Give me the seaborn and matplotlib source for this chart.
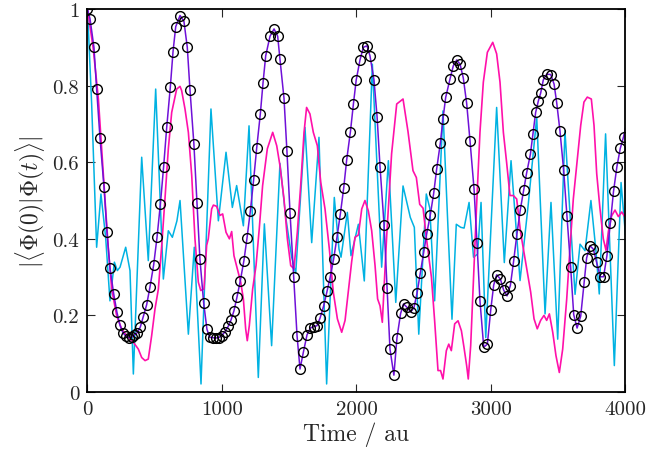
import numpy as np
import pandas as pd
import seaborn as sns
import matplotlib
matplotlib.use("Agg")
import matplotlib.pyplot as plt
from matplotlib.ticker import FuncFormatter

# purple series (drawn with open circles); last point is the line end at the frame
t_purple = [0, 19, 48, 68, 93, 123, 145, 167, 195, 219, 241, 264, 289, 309, 328, 348, 370, 393, 415, 440,
            465, 492, 517, 542, 566, 589, 616, 636, 656, 688, 717, 742, 762, 791, 814, 836, 864, 888, 908, 930,
            953, 975, 997, 1022, 1047, 1067, 1089, 1111, 1136, 1163, 1186, 1211, 1235, 1258, 1285, 1305, 1325,
            1357, 1387, 1414, 1431, 1461, 1483, 1506, 1533, 1558, 1580, 1605, 1632, 1657, 1682, 1706, 1729,
            1756, 1781, 1805, 1830, 1855, 1880, 1905, 1927, 1955, 1977, 1998, 2026, 2051, 2078, 2100, 2130,
            2153, 2175, 2205, 2227, 2249, 2278, 2301, 2328, 2350, 2373, 2403, 2427, 2450, 2475, 2500, 2522,
            2549, 2574, 2596, 2623, 2643, 2663, 2695, 2720, 2745, 2770, 2794, 2819, 2844, 2874, 2896, 2918,
            2946, 2973, 2998, 3020, 3042, 3070, 3094, 3119, 3144, 3168, 3193, 3218, 3243, 3265, 3293, 3312,
            3332, 3352, 3369, 3389, 3414, 3444, 3469, 3489, 3513, 3540, 3565, 3592, 3615, 3640, 3667, 3692,
            3711, 3736, 3761, 3785, 3813, 3837, 3862, 3887, 3911, 3936, 3961, 3986, 4000]
v_purple = [1.0, 0.974, 0.90, 0.791, 0.663, 0.534, 0.417, 0.324, 0.256, 0.208, 0.175, 0.154, 0.145, 0.142,
            0.143, 0.149, 0.155, 0.17, 0.197, 0.228, 0.275, 0.332, 0.404, 0.491, 0.588, 0.691, 0.797, 0.889,
            0.954, 0.983, 0.968, 0.90, 0.789, 0.648, 0.493, 0.347, 0.232, 0.164, 0.143, 0.142, 0.141, 0.142,
            0.147, 0.157, 0.172, 0.188, 0.212, 0.247, 0.29, 0.343, 0.402, 0.473, 0.553, 0.637, 0.726, 0.807,
            0.878, 0.929, 0.948, 0.929, 0.869, 0.767, 0.628, 0.467, 0.299, 0.147, 0.06, 0.104, 0.149, 0.167,
            0.171, 0.173, 0.193, 0.225, 0.263, 0.301, 0.347, 0.404, 0.465, 0.533, 0.606, 0.68, 0.752, 0.815,
            0.867, 0.90, 0.904, 0.878, 0.815, 0.719, 0.588, 0.436, 0.272, 0.112, 0.044, 0.142, 0.205, 0.23,
            0.222, 0.209, 0.22, 0.258, 0.312, 0.365, 0.413, 0.463, 0.519, 0.582, 0.649, 0.713, 0.769, 0.817,
            0.852, 0.867, 0.856, 0.82, 0.754, 0.656, 0.53, 0.388, 0.238, 0.117, 0.125, 0.214, 0.279, 0.306,
            0.295, 0.266, 0.251, 0.278, 0.341, 0.413, 0.476, 0.527, 0.572, 0.621, 0.674, 0.73, 0.76, 0.78,
            0.815, 0.83, 0.829, 0.804, 0.754, 0.681, 0.58, 0.46, 0.327, 0.202, 0.167, 0.198, 0.286, 0.35,
            0.382, 0.373, 0.339, 0.301, 0.301, 0.356, 0.44, 0.524, 0.588, 0.636, 0.667, 0.69]

# magenta series
t_magenta = [0, 43, 81, 105, 130, 155, 180, 217, 254, 291, 341, 378, 403, 428, 452, 477, 502, 527, 552, 576,
             601, 626, 663, 688, 700, 725, 750, 775, 799, 824, 842, 866, 886, 898, 923, 936, 960, 985, 1005,
             1030, 1055, 1072, 1089, 1114, 1139, 1159, 1176, 1188, 1203, 1228, 1253, 1277, 1302, 1337, 1377,
             1407, 1431, 1461, 1486, 1511, 1535, 1560, 1585, 1610, 1629, 1654, 1679, 1709, 1734, 1766, 1798,
             1828, 1858, 1890, 1915, 1940, 1964, 1989, 2014, 2039, 2063, 2088, 2113, 2138, 2157, 2175, 2192,
             2224, 2261, 2299, 2331, 2346, 2383, 2420, 2445, 2470, 2495, 2519, 2557, 2581, 2606, 2625, 2643,
             2668, 2686, 2705, 2730, 2755, 2780, 2799, 2819, 2831, 2849, 2869, 2893, 2918, 2943, 2973, 3013,
             3042, 3067, 3092, 3116, 3141, 3166, 3191, 3220, 3245, 3270, 3295, 3320, 3344, 3369, 3394, 3414,
             3434, 3459, 3483, 3508, 3533, 3563, 3587, 3612, 3642, 3667, 3691, 3716, 3746, 3766, 3786, 3810,
             3835, 3855, 3873, 3897, 3922, 3947, 3972, 4000]
v_magenta = [1.0, 0.896, 0.765, 0.635, 0.504, 0.374, 0.269, 0.199, 0.165, 0.147, 0.130, 0.112, 0.09, 0.082,
             0.086, 0.147, 0.217, 0.269, 0.383, 0.504, 0.635, 0.73, 0.791, 0.798, 0.787, 0.739, 0.678, 0.565,
             0.40, 0.287, 0.265, 0.269, 0.383, 0.40, 0.478, 0.488, 0.485, 0.461, 0.465, 0.417, 0.40, 0.419,
             0.356, 0.322, 0.287, 0.243, 0.165, 0.134, 0.173, 0.269, 0.33, 0.426, 0.539, 0.635, 0.678, 0.643,
             0.591, 0.504, 0.40, 0.33, 0.322, 0.417, 0.539, 0.678, 0.743, 0.726, 0.678, 0.643, 0.548, 0.478,
             0.374, 0.26, 0.191, 0.156, 0.187, 0.265, 0.34, 0.404, 0.41, 0.478, 0.50, 0.473, 0.421, 0.33,
             0.243, 0.225, 0.182, 0.404, 0.622, 0.752, 0.761, 0.765, 0.68, 0.578, 0.56, 0.49, 0.48, 0.404,
             0.30, 0.186, 0.056, 0.056, 0.034, 0.108, 0.125, 0.108, 0.178, 0.186, 0.16, 0.117, 0.069, 0.034,
             0.121, 0.287, 0.487, 0.678, 0.809, 0.887, 0.913, 0.883, 0.809, 0.678, 0.60, 0.513, 0.513, 0.504,
             0.417, 0.365, 0.313, 0.261, 0.191, 0.165, 0.187, 0.20, 0.187, 0.204, 0.156, 0.095, 0.051, 0.112,
             0.243, 0.374, 0.504, 0.609, 0.696, 0.757, 0.77, 0.765, 0.696, 0.57, 0.48, 0.40, 0.37, 0.42, 0.46,
             0.475, 0.458, 0.47, 0.455]

# cyan series
t_cyan = [0, 31, 68, 100, 135, 167, 200, 222, 242, 284, 316, 341, 403, 452, 507, 564, 601, 631, 665, 688,
          750, 794, 844, 918, 973, 1030, 1077, 1109, 1159, 1201, 1270, 1315, 1369, 1431, 1474, 1518, 1548,
          1617, 1667, 1721, 1778, 1835, 1870, 1885, 1932, 1959, 2014, 2058, 2118, 2187, 2237, 2292, 2346,
          2400, 2430, 2463, 2519, 2545, 2581, 2643, 2680, 2710, 2742, 2775, 2800, 2837, 2870, 2900, 2926,
          2961, 3042, 3099, 3149, 3216, 3277, 3340, 3402, 3446, 3496, 3550, 3590, 3625, 3662, 3699, 3743,
          3780, 3805, 3852, 3917, 3967, 4000]
v_cyan = [1.0, 0.752, 0.378, 0.517, 0.404, 0.238, 0.339, 0.317, 0.326, 0.378, 0.317, 0.047, 0.613, 0.343,
          0.791, 0.295, 0.421, 0.404, 0.447, 0.50, 0.151, 0.378, 0.021, 0.739, 0.447, 0.626, 0.482, 0.539,
          0.434, 0.695, 0.038, 0.439, 0.121, 0.597, 0.456, 0.352, 0.31, 0.691, 0.39, 0.665, 0.021, 0.508,
          0.373, 0.352, 0.469, 0.356, 0.438, 0.29, 0.856, 0.326, 0.604, 0.234, 0.538, 0.456, 0.43, 0.151,
          0.517, 0.48, 0.238, 0.734, 0.43, 0.19, 0.438, 0.43, 0.428, 0.495, 0.352, 0.36, 0.495, 0.142, 0.743,
          0.338, 0.604, 0.291, 0.49, 0.717, 0.204, 0.495, 0.138, 0.682, 0.45, 0.255, 0.386, 0.369, 0.50,
          0.37, 0.256, 0.674, 0.069, 0.547, 0.41]

sns.set_style("ticks")
plt.rcParams["font.family"] = "serif"
plt.rcParams["font.serif"] = ["cmr10"]
plt.rcParams["mathtext.fontset"] = "cm"
plt.rcParams["axes.unicode_minus"] = False
plt.rcParams["axes.formatter.use_mathtext"] = True

fig = plt.figure(figsize=(6.5, 4.64), dpi=100)
ax = fig.add_axes([0.1346, 0.153, 0.8277, 0.8254])

sns.lineplot(x=t_cyan, y=v_cyan, color="#00b2e2", linewidth=1.1, estimator=None, sort=False, ax=ax)
sns.lineplot(x=t_magenta, y=v_magenta, color="#ff10aa", linewidth=1.2, estimator=None, sort=False, ax=ax)
sns.lineplot(x=t_purple, y=v_purple, color="#6f10d8", linewidth=1.1, estimator=None, sort=False, ax=ax,
             marker="o", markersize=7, markerfacecolor="none", markeredgecolor="black", markeredgewidth=1.0,
             markevery=list(range(len(t_purple) - 1)))

ax.set_xlim(0, 4000)
ax.set_ylim(0, 1)
ax.set_xticks([0, 1000, 2000, 3000, 4000])
ax.set_yticks([0, 0.2, 0.4, 0.6, 0.8, 1.0])
ax.yaxis.set_major_formatter(FuncFormatter(lambda x, _: f"{x:g}"))
ax.xaxis.set_major_formatter(FuncFormatter(lambda x, _: f"{x:g}"))
ax.tick_params(direction="in", top=True, right=True, length=6, width=0.8, labelsize=15, pad=6)
for s in ax.spines.values():
    s.set_linewidth(1.3)
    s.set_color("black")

ax.set_xlabel("Time / au", fontsize=17, labelpad=2)
ax.set_ylabel(r"$|\langle\Phi(0)|\Phi(t)\rangle|$", fontsize=17, labelpad=4)

fig.savefig("out.png", dpi=100)
